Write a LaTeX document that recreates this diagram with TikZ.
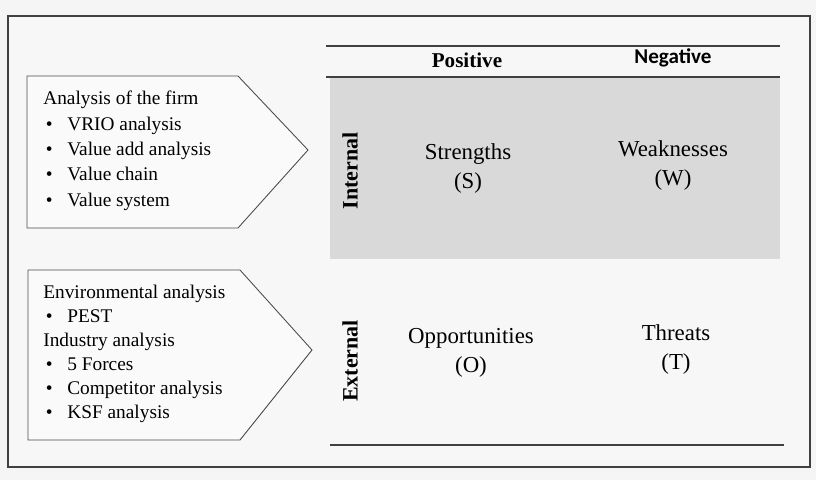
\documentclass[tikz,border=0pt]{standalone}
\usepackage{fontspec}
\setmainfont{Liberation Serif}
\newfontfamily\headsans{Carlito}
\tikzset{>=stealth}
\tikzset{
  listtext/.style={anchor=north west, inner sep=0pt, align=left, font=\fontsize{11}{14.4}\selectfont},
  cell/.style={align=center, inner sep=0pt, font=\fontsize{13}{16.5}\selectfont},
  sidelabel/.style={rotate=90, inner sep=0pt, font=\fontsize{12.5}{15}\selectfont\bfseries},
  headlabel/.style={inner sep=0pt, font=\fontsize{12}{14}\selectfont\bfseries},
  tablerule/.style={draw=black!75, line width=0.6pt},
  arrowbox/.style={draw=black!70, line width=0.5pt, fill=white!98!black}
}
\newcommand{\itm}[1]{\makebox[4.8mm][l]{\hspace{0.5mm}\textbullet}#1}

\begin{document}
\begin{tikzpicture}[x=0.2mm, y=-0.2mm]
    \fill[black!4] (0,0) rectangle (816,480);
    \useasboundingbox (0,0) rectangle (816,480);
    \draw[tablerule, fill=white!97!black] (8,16) rectangle (810,467);
    \fill[black!15] (330,78) rectangle (780,259);
    \draw[tablerule] (326,46) -- (780,46);
    \draw[tablerule] (326,77) -- (780,77);
    \draw[tablerule] (330,445) -- (784,445);
    \draw[arrowbox] (27,76) -- (238,76) -- (308,150) -- (238,228) -- (27,228) -- cycle;
    \draw[arrowbox] (28,270) -- (240,270) -- (312,350) -- (240,440) -- (28,440) -- cycle;
    \node[listtext] (firm) at (43,91) {Analysis of the firm\\
        \itm{VRIO analysis}\\
        \itm{Value add analysis}\\
        \itm{Value chain}\\
        \itm{Value system}};
    \node[listtext, font=\fontsize{11}{13.6}\selectfont] (env) at (43,285) {Environmental analysis\\
        \itm{PEST}\\
        Industry analysis\\
        \itm{5 Forces}\\
        \itm{Competitor analysis}\\
        \itm{KSF analysis}};
    \node[headlabel] (positive) at (467,60) {Positive};
    \node[headlabel, font=\fontsize{12}{14}\selectfont\headsans\bfseries] (negative) at (673,58) {Negative};
    \node[sidelabel] (internal) at (350,171) {Internal};
    \node[sidelabel] (external) at (350,361) {External};
    \node[cell] (str) at (468,169) {Strengths\\(S)};
    \node[cell] (weak) at (673,166) {Weaknesses\\(W)};
    \node[cell] (opp) at (471,353) {Opportunities\\(O)};
    \node[cell] (thr) at (676,350) {Threats\\(T)};
\end{tikzpicture}
\end{document}
